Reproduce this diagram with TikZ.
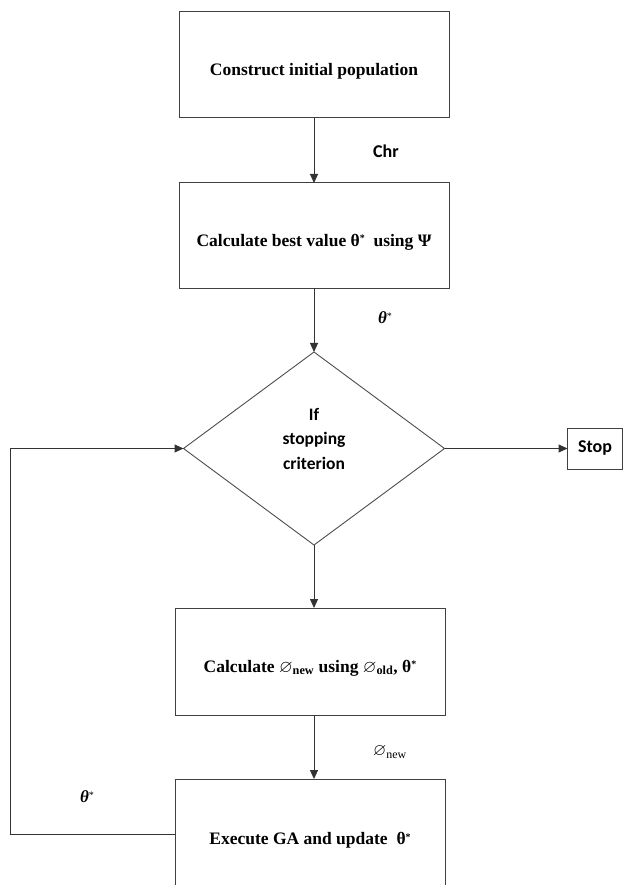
\documentclass[tikz,border=0pt]{standalone}
\usepackage{amsmath,amssymb}
\usepackage{fontspec}
\setmainfont{Liberation Serif}
\newfontfamily\calfont{Carlito}
\usetikzlibrary{arrows.meta,positioning,shapes.geometric}
\newcommand{\smallstar}{\raisebox{0.55ex}{\fontsize{10}{10}\selectfont *}}

\begin{document}
\begin{tikzpicture}[x=1pt, y=1pt,
  stepbox/.style={draw=black!75, line width=1pt, minimum width=270pt, inner sep=0pt, outer sep=0pt,
    text height=25pt, font=\fontsize{17.5}{21}\selectfont\bfseries, align=center},
  cond/.style={draw=black!70, line width=0.9pt, diamond, minimum width=261pt, minimum height=193pt,
    inner sep=0pt, outer sep=0pt, font=\calfont\fontsize{17.5}{24.5}\selectfont\bfseries, align=center},
  endbox/.style={draw=black!75, line width=1pt, minimum width=55pt, minimum height=41pt,
    inner sep=0pt, outer sep=0pt, font=\calfont\fontsize{18}{21}\selectfont\bfseries},
  arr/.style={-{Triangle[length=9pt, width=8pt]}, line width=1pt, black!80},
  flowlab/.style={font=\calfont\fontsize{18}{21}\selectfont\bfseries},
  varlab/.style={font=\fontsize{17}{20}\selectfont},
]
\useasboundingbox (0,0) rectangle (626,-885);

% --- Main column ---
\node[stepbox, minimum height=106pt] (init) at (314,-65) {Construct initial population};
\node[stepbox, minimum height=105pt, below=65pt of init] (best)
  {Calculate best value θ\smallstar\ \ using Ψ};
\node[cond, below=64pt of best] (stopq) {If\\stopping\\criterion\\[-4.5pt]};
\node[endbox, right=123pt of stopq] (stop) {Stop};
\node[stepbox, minimum height=107pt, below=63pt of stopq, xshift=-4pt] (phi)
  {Calculate \(\varnothing_{\text{\bfseries new}}\) using \(\varnothing_{\text{\bfseries old}}\), θ\smallstar};
\node[stepbox, minimum height=110pt, below=64pt of phi] (exec)
  {Execute GA and update\ \ θ\smallstar};

% --- Connectors ---
\draw[arr] (init) -- (best);
\draw[arr] (best) -- (stopq);
\draw[arr] (stopq) -- (stop);
\draw[arr] (stopq.south) -- (stopq.south |- phi.north);
\draw[arr] (phi.south -| stopq.south) -- (exec.north -| stopq.south);
\draw[arr] (exec.west) -- ++(-165,0) |- (stopq.west);

% --- Connector labels ---
\node[flowlab] (chrlab) at (386,-151) {Chr};
\node[varlab] (thlab) at (385,-318) {\textbf{\textit{θ}}\smallstar};
\node[varlab] (philab) at (390,-752) {\(\varnothing_{\text{new}}\)};
\node[varlab] (backlab) at (87,-797) {\textbf{\textit{θ}}\smallstar};
\end{tikzpicture}
\end{document}
